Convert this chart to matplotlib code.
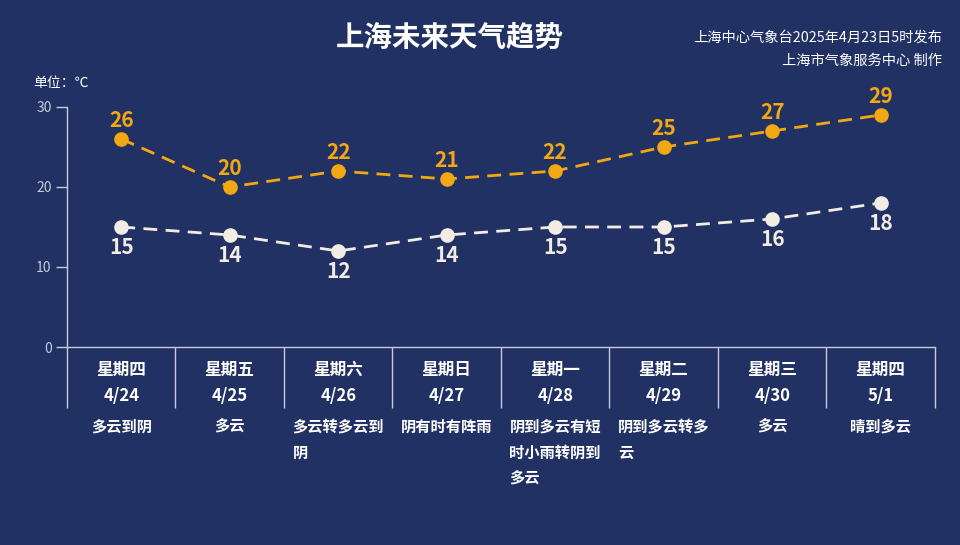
import matplotlib
matplotlib.use("Agg")
import matplotlib.pyplot as plt

plt.rcParams['font.family'] = ['Noto Sans CJK SC', 'DejaVu Sans']

# data
days = ["星期四", "星期五", "星期六", "星期日", "星期一", "星期二", "星期三", "星期四"]
dates = ["4/24", "4/25", "4/26", "4/27", "4/28", "4/29", "4/30", "5/1"]
weather = ["多云到阴", "多云", "多云转多云到\n阴", "阴有时有阵雨",
           "阴到多云有短\n时小雨转阴到\n多云", "阴到多云转多\n云", "多云", "晴到多云"]
t_high = [26, 20, 22, 21, 22, 25, 27, 29]
t_low = [15, 14, 12, 14, 15, 15, 16, 18]
y_ticks = [0, 10, 20, 30]

BG = "#213163"
ORANGE = "#f2a812"
WHITE = "#f3ece4"
GRID = "#c5cbd9"

fig = plt.figure(figsize=(9.6, 5.45), dpi=100, facecolor=BG)
ax = fig.add_axes([0.0698, 0.3633, 0.904, 0.4404], facecolor=BG)

x = list(range(len(days)))
ax.plot(x, t_high, color=ORANGE, lw=2, ls=(0, (5, 3)), marker="o", ms=9.5,
        markerfacecolor=ORANGE, markeredgecolor=ORANGE, zorder=3)
ax.plot(x, t_low, color=WHITE, lw=2, ls=(0, (5, 3)), marker="o", ms=9.5,
        markerfacecolor=WHITE, markeredgecolor=WHITE, zorder=3)

for xi, v in zip(x, t_high):
    ax.annotate(str(v), (xi, v), xytext=(0, 6), textcoords="offset points",
                ha="center", va="bottom", color=ORANGE, fontsize=15, fontweight="bold")
for xi, v in zip(x, t_low):
    ax.annotate(str(v), (xi, v), xytext=(0, -7), textcoords="offset points",
                ha="center", va="top", color=WHITE, fontsize=15, fontweight="bold")

ax.set_xlim(-0.5, len(days) - 0.5)
ax.set_ylim(0, 30)
ax.set_yticks(y_ticks)
ax.set_xticks([])
ax.tick_params(axis="y", colors=GRID, labelsize=10, length=8, width=1, pad=3)
for s in ["top", "right"]:
    ax.spines[s].set_visible(False)
for s in ["left", "bottom"]:
    ax.spines[s].set_color(GRID)
    ax.spines[s].set_linewidth(1)

# category separators and labels below the axis
trans = ax.get_xaxis_transform()
seps = [i - 0.5 for i in range(len(days) + 1)]
ax.vlines(seps, -0.254, 0, transform=trans, color=GRID, lw=1, clip_on=False)
for xi, d, dt, w in zip(x, days, dates, weather):
    ax.text(xi, -0.096, d, transform=trans, ha="center", va="center",
            color="white", fontsize=12, fontweight="bold")
    ax.text(xi, -0.204, dt, transform=trans, ha="center", va="center",
            color="white", fontsize=12, fontweight="bold")
    ax.text(xi, -0.298, w, transform=trans, ha="center", va="top",
            color="white", fontsize=11, fontweight="bold",
            multialignment="left", linespacing=1.78)

# titles and notes
fig.text(0.469, 0.93, "上海未来天气趋势", ha="center", va="center",
         color="white", fontsize=20.5, fontweight="bold")
fig.text(0.981, 0.93, "上海中心气象台2025年4月23日5时发布", ha="right", va="center",
         color="white", fontsize=10.3)
fig.text(0.981, 0.888, "上海市气象服务中心 制作", ha="right", va="center",
         color="white", fontsize=10.3)
fig.text(0.035, 0.848, "单位：℃", ha="left", va="center", color="white", fontsize=10)

# legend
ax.plot([], [], color=ORANGE, lw=2, marker="o", ms=10, label="最高气温")
ax.plot([], [], color=WHITE, lw=2, marker="o", ms=10, label="最低气温")
handles, labels = ax.get_legend_handles_labels()
leg = fig.legend(handles[2:], labels[2:], loc="center left", bbox_to_anchor=(0.140, 0.868),
                 ncol=2, frameon=False, fontsize=10, labelcolor="white",
                 handlelength=2.4, columnspacing=2.6, handletextpad=1.0)

fig.savefig("out.png", dpi=100, facecolor=BG)
